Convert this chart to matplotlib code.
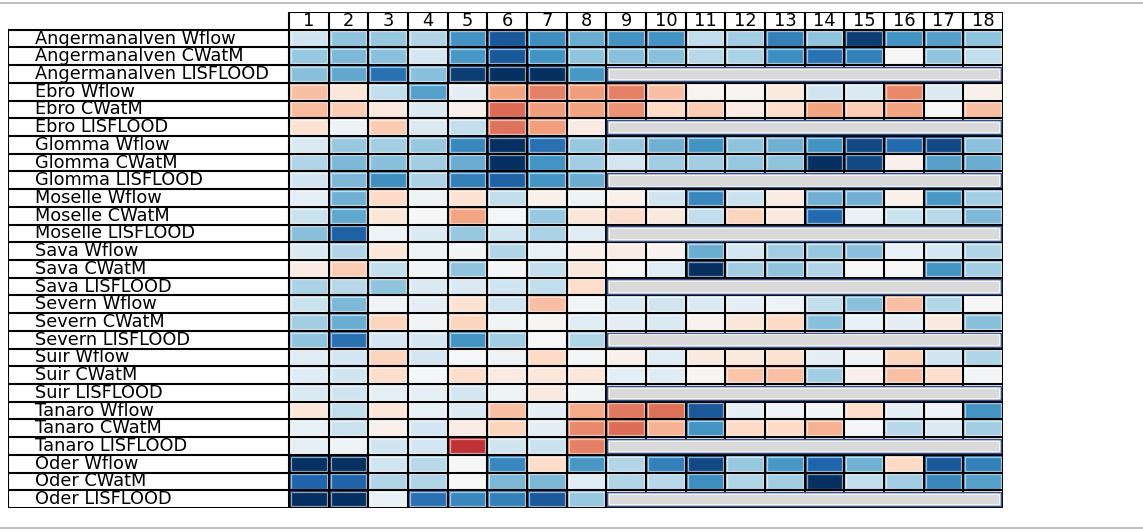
import numpy as np
import matplotlib
matplotlib.use("Agg")
import matplotlib.pyplot as plt
from matplotlib.patches import Rectangle
from matplotlib.lines import Line2D
from matplotlib.colors import to_rgb

basins = ["Angermanalven", "Ebro", "Glomma", "Moselle", "Sava",
          "Severn", "Suir", "Tanaro", "Oder"]
models = ["Wflow", "CWatM", "LISFLOOD"]
columns = [str(i) for i in range(1, 19)]

# values (RdBu_r, -1 .. 1); LISFLOOD has only 8 columns
angermanalven_wflow = [-0.2, -0.4, -0.38, -0.3, -0.6, -0.85, -0.62, -0.5, -0.6, -0.6, -0.25, -0.35, -0.68, -0.4, -0.95, -0.6, -0.55, -0.4]
angermanalven_cwatm = [-0.38, -0.45, -0.42, -0.18, -0.58, -0.85, -0.6, -0.4, -0.42, -0.42, -0.28, -0.32, -0.62, -0.75, -0.68, 0.0, -0.4, -0.25]
angermanalven_lisflood = [-0.42, -0.52, -0.75, -0.42, -0.95, -1.0, -1.0, -0.58]
ebro_wflow = [0.3, 0.12, -0.25, -0.55, -0.1, 0.4, 0.5, 0.42, 0.5, 0.3, 0.02, 0.02, 0.1, -0.2, -0.15, 0.48, -0.15, 0.05]
ebro_cwatm = [0.32, 0.25, 0.1, -0.15, 0.06, 0.57, 0.42, 0.4, 0.45, 0.2, 0.25, 0.08, 0.18, 0.4, 0.25, 0.4, 0.0, 0.3]
ebro_lisflood = [0.15, -0.05, 0.25, -0.15, -0.25, 0.54, 0.42, 0.08]
glomma_wflow = [-0.15, -0.38, -0.35, -0.38, -0.65, -1.0, -0.75, -0.38, -0.38, -0.48, -0.6, -0.4, -0.48, -0.6, -0.9, -0.78, -0.9, -0.42]
glomma_cwatm = [-0.3, -0.45, -0.42, -0.35, -0.5, -1.0, -0.6, -0.35, -0.18, -0.35, -0.35, -0.38, -0.4, -1.0, -0.9, 0.05, -0.55, -0.5]
glomma_lisflood = [-0.2, -0.45, -0.62, -0.32, -0.68, -0.82, -0.6, -0.5]
moselle_wflow = [-0.1, -0.48, 0.2, -0.05, 0.15, -0.25, 0.05, -0.05, 0.05, -0.2, -0.65, -0.22, 0.08, -0.48, -0.48, 0.05, -0.58, -0.35]
moselle_cwatm = [-0.22, -0.52, 0.12, 0.0, 0.4, -0.02, -0.38, 0.12, 0.18, 0.1, -0.25, 0.22, 0.1, -0.78, -0.08, -0.22, -0.28, -0.45]
moselle_lisflood = [-0.42, -0.82, -0.06, -0.15, -0.38, -0.2, -0.32, -0.12]
sava_wflow = [-0.15, -0.3, 0.12, -0.05, -0.03, -0.3, -0.08, 0.05, 0.08, 0.03, -0.5, -0.18, -0.35, -0.38, -0.42, -0.08, -0.18, -0.3]
sava_cwatm = [0.08, 0.25, -0.25, -0.03, -0.4, -0.02, -0.25, 0.12, 0.0, -0.12, -1.0, -0.35, -0.4, -0.3, 0.0, 0.0, -0.6, -0.35]
sava_lisflood = [-0.32, -0.28, -0.4, -0.15, -0.15, -0.2, -0.25, 0.18]
severn_wflow = [-0.22, -0.45, -0.04, -0.1, 0.15, -0.2, 0.3, -0.03, -0.15, -0.2, -0.15, -0.1, -0.06, -0.25, -0.42, 0.3, -0.3, 0.0]
severn_cwatm = [-0.35, -0.5, 0.22, -0.03, 0.22, -0.03, 0.02, -0.12, -0.1, -0.15, 0.04, 0.12, 0.2, -0.42, -0.08, -0.1, 0.1, -0.42]
severn_lisflood = [-0.4, -0.75, -0.18, -0.18, -0.6, -0.35, 0.0, -0.3]
suir_wflow = [-0.12, -0.18, 0.22, -0.18, -0.01, -0.05, 0.2, -0.02, 0.05, -0.12, 0.1, 0.1, 0.15, -0.1, -0.04, 0.22, -0.2, -0.3]
suir_cwatm = [-0.12, -0.2, 0.18, -0.02, 0.18, 0.08, 0.12, 0.12, -0.1, -0.12, 0.02, 0.28, 0.3, -0.35, 0.05, 0.3, 0.18, -0.03]
suir_lisflood = [-0.15, -0.2, -0.1, -0.1, -0.18, -0.05, 0.1, -0.03]
tanaro_wflow = [0.12, -0.25, 0.12, -0.08, -0.15, 0.3, -0.1, 0.38, 0.53, 0.55, -0.85, -0.1, -0.04, -0.03, 0.18, -0.1, -0.05, -0.6]
tanaro_cwatm = [-0.08, -0.22, 0.05, -0.18, 0.08, 0.22, -0.1, 0.48, 0.56, 0.35, -0.6, 0.2, 0.2, 0.35, -0.02, -0.28, -0.15, -0.35]
tanaro_lisflood = [-0.1, -0.05, -0.2, -0.18, 0.72, -0.2, -0.22, 0.5]
oder_wflow = [-1.0, -1.0, -0.2, -0.28, 0.0, -0.65, 0.18, -0.58, -0.3, -0.68, -0.9, -0.38, -0.58, -0.8, -0.48, 0.2, -0.85, -0.68]
oder_cwatm = [-0.8, -0.8, -0.3, -0.3, 0.0, -0.45, -0.45, -0.12, -0.3, -0.28, -0.62, -0.3, -0.35, -1.0, -0.25, -0.35, -0.65, -0.55]
oder_lisflood = [-1.0, -1.0, -0.08, -0.75, -0.65, -0.68, -0.85, -0.38]

rows_data = [
    angermanalven_wflow, angermanalven_cwatm, angermanalven_lisflood,
    ebro_wflow, ebro_cwatm, ebro_lisflood,
    glomma_wflow, glomma_cwatm, glomma_lisflood,
    moselle_wflow, moselle_cwatm, moselle_lisflood,
    sava_wflow, sava_cwatm, sava_lisflood,
    severn_wflow, severn_cwatm, severn_lisflood,
    suir_wflow, suir_cwatm, suir_lisflood,
    tanaro_wflow, tanaro_cwatm, tanaro_lisflood,
    oder_wflow, oder_cwatm, oder_lisflood,
]
row_labels = [f"{b} {m}" for b in basins for m in models]

ncol = len(columns)
nrow = len(rows_data)
grid = np.full((nrow, ncol), np.nan)
for i, r in enumerate(rows_data):
    grid[i, :len(r)] = r

W, H = 1143, 532
fig = plt.figure(figsize=(W / 100, H / 100), dpi=100)

# axes spans label column + data, header row on top
x0, x_data, x1 = 8, 289, 1003
y_top, y_bot = 12, 508
ax = fig.add_axes([x0 / W, 1 - y_bot / H, (x1 - x0) / W, (y_bot - y_top) / H])
colw = (x1 - x_data) / ncol
left = -(x_data - x0) / colw
ax.set_xlim(left, ncol)
ax.set_ylim(nrow, -1)
ax.axis("off")

cmap = plt.get_cmap("RdBu_r")
norm = plt.Normalize(-1, 1)

lw = 1.5
for i in range(nrow):
    for j in range(ncol):
        v = grid[i, j]
        if np.isnan(v):
            continue
        c = np.array(to_rgb(cmap(norm(v))))
        ax.add_patch(Rectangle((j, i), 1, 1, facecolor=c, edgecolor="none"))
        light = 0.45 * c + 0.55
        ax.add_patch(Rectangle((j + 0.05, i + 0.1), 0.9, 0.8, facecolor="none",
                               edgecolor=light, lw=0.9))

# grid lines
for i in range(nrow + 1):
    ax.plot([left, ncol], [i, i], color="k", lw=lw, solid_capstyle="projecting")
ax.plot([0, ncol], [-1, -1], color="k", lw=lw, solid_capstyle="projecting")
for j in range(ncol + 1):
    ax.plot([j, j], [-1, nrow], color="k", lw=lw, solid_capstyle="projecting")
ax.plot([left, left], [0, nrow], color="k", lw=lw, solid_capstyle="projecting")

# missing LISFLOOD columns as one merged grey cell
for i in range(nrow):
    n = len(rows_data[i])
    if n < ncol:
        ax.add_patch(Rectangle((n + 0.02, i + 0.1), ncol - n - 0.08, 0.8,
                               facecolor="#d9d9d9", edgecolor="#34508c", lw=1.0, zorder=3))
        ax.add_patch(Rectangle((n + 0.07, i + 0.2), ncol - n - 0.18, 0.6,
                               facecolor="none", edgecolor="#f2f2f2", lw=0.8, zorder=3))

for i, lab in enumerate(row_labels):
    ax.text(left + (35 - x0) / colw, i + 0.5, lab, ha="left", va="center",
            fontsize=12.8, color="k")
for j, lab in enumerate(columns):
    ax.text(j + 0.5, -0.5, lab, ha="center", va="center", fontsize=12.8, color="k")

# page rules
fig.add_artist(Line2D([0, 1], [1 - 3 / H, 1 - 3 / H], color="#c0c0c0", lw=1.5))
fig.add_artist(Line2D([0, 1], [1 - 528 / H, 1 - 528 / H], color="#c0c0c0", lw=1.5))

fig.savefig("out.png", dpi=100)
